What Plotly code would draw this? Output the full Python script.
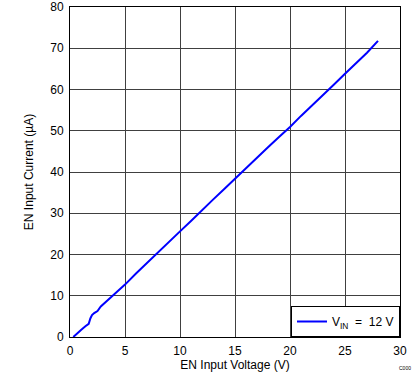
import plotly.graph_objects as go

voltage = [0.3, 0.6, 1.0, 1.4, 1.7, 1.85, 2.0, 2.2, 2.5, 2.8, 3.2, 3.6, 4.0, 4.5, 5.0, 6.0, 7.0, 8.0,
           9.0, 10, 11, 12, 13, 14, 15, 16, 17, 18, 19, 20, 21, 22, 23, 23.5, 24, 25, 26, 27, 28]
current = [0.0, 0.8, 1.7, 2.6, 3.2, 4.5, 5.3, 5.8, 6.3, 7.4, 8.3, 9.3, 10.3, 11.5, 12.7, 15.4, 18.0, 20.5,
           23.0, 25.6, 28.1, 30.8, 33.3, 35.8, 38.4, 40.9, 43.4, 46.0, 48.5, 50.9, 53.6, 56.1, 58.6, 59.8,
           61.2, 63.8, 66.3, 68.9, 71.8]

x_ticks = [0, 5, 10, 15, 20, 25, 30]
y_ticks = [0, 10, 20, 30, 40, 50, 60, 70, 80]

FONT = "Liberation Sans, Arial, sans-serif"

fig = go.Figure()
fig.add_trace(go.Scatter(
    x=voltage, y=current, mode="lines",
    line=dict(color="#0000FF", width=2),
    name="V<sub>IN</sub> &nbsp;=&nbsp; 12 V",
))

axis_common = dict(
    showline=True, linecolor="black", linewidth=1, mirror=True,
    showgrid=True, gridcolor="#404040", gridwidth=1,
    zeroline=False, ticks="", automargin=False, ticklabelstandoff=3,
    tickfont=dict(family=FONT, size=12, color="black"),
)

fig.update_xaxes(range=[0, 30], tickvals=x_ticks, ticktext=[str(v) for v in x_ticks],
                 title=dict(text="EN Input Voltage (V)", font=dict(family=FONT, size=12, color="black"), standoff=2),
                 **axis_common)
fig.update_yaxes(range=[0, 80], tickvals=y_ticks, ticktext=[str(v) for v in y_ticks],
                 title=dict(text="EN Input Current (µA)", font=dict(family=FONT, size=12, color="black"), standoff=14),
                 **axis_common)

fig.update_layout(
    width=419, height=382,
    margin=dict(l=70, r=19, t=7, b=45, autoexpand=False),
    paper_bgcolor="white", plot_bgcolor="white",
    font=dict(family=FONT, size=12, color="black"),
    showlegend=True,
    legend=dict(x=1, y=0, xanchor="right", yanchor="bottom",
                bordercolor="black", borderwidth=1, bgcolor="white",
                font=dict(family=FONT, size=12, color="black"),
                itemwidth=30),
    annotations=[dict(text="C000", x=1.039, y=-0.094, xref="paper", yref="paper",
                      showarrow=False, font=dict(family=FONT, size=5, color="black"),
                      xanchor="right", yanchor="middle")],
)

# remove the browser's default 8px body margin so the figure sits at the page corner
fig.write_html("out.html", config={"displayModeBar": False},
               post_script="document.body.style.margin='0';")
